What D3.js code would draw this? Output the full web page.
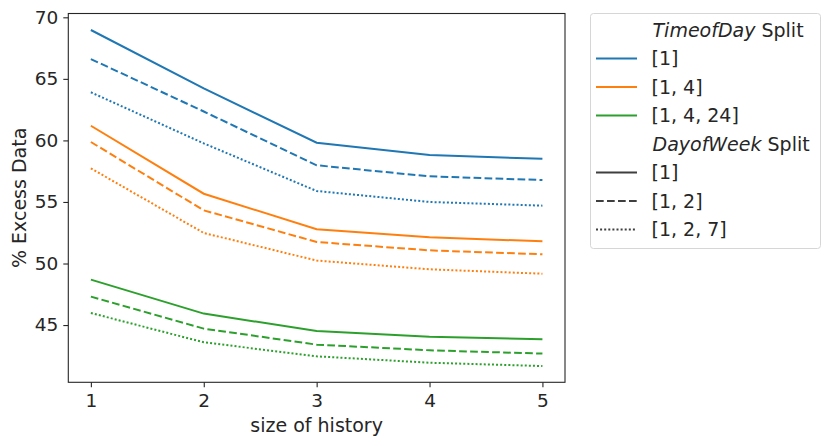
<!DOCTYPE html>
<html>
<head>
<meta charset="utf-8">
<script src="https://cdn.jsdelivr.net/npm/d3@7"></script>
<style>
  body { margin: 0; background: #fff; }
  text { font-family: "DejaVu Sans", sans-serif; fill: #262626; }
</style>
</head>
<body>
<svg width="831" height="446"></svg>
<script>
// data
const history = [1, 2, 3, 4, 5];
const todSplits = ['[1]', '[1, 4]', '[1, 4, 24]'];
const dowSplits = ['[1]', '[1, 2]', '[1, 2, 7]'];

// rows = TimeofDay split, inner = DayofWeek split
const tod1_dow1 = [68.97, 64.23, 59.81, 58.81, 58.51];
const tod1_dow2 = [66.61, 62.35, 57.98, 57.08, 56.78];
const tod1_dow3 = [63.91, 59.76, 55.89, 55.00, 54.70];
const tod2_dow1 = [61.19, 55.67, 52.78, 52.13, 51.80];
const tod2_dow2 = [59.87, 54.32, 51.75, 51.07, 50.75];
const tod2_dow3 = [57.73, 52.48, 50.24, 49.53, 49.17];
const tod3_dow1 = [48.69, 45.93, 44.52, 44.06, 43.85];
const tod3_dow2 = [47.31, 44.71, 43.41, 42.95, 42.68];
const tod3_dow3 = [45.98, 43.60, 42.46, 41.94, 41.67];

const yTicks = [45, 50, 55, 60, 65, 70];

const series = [
  {tod: 0, dow: 0, values: tod1_dow1},
  {tod: 0, dow: 1, values: tod1_dow2},
  {tod: 0, dow: 2, values: tod1_dow3},
  {tod: 1, dow: 0, values: tod2_dow1},
  {tod: 1, dow: 1, values: tod2_dow2},
  {tod: 1, dow: 2, values: tod2_dow3},
  {tod: 2, dow: 0, values: tod3_dow1},
  {tod: 2, dow: 1, values: tod3_dow2},
  {tod: 2, dow: 2, values: tod3_dow3}
];

const colours = ['#1f77b4', '#ff7f0e', '#2ca02c'];
const dashes = [null, '7.7,3.3', '2,2.1'];
const tickFont = 18.5;
const labelFont = 19;

const svg = d3.select('svg');
const margin = {top: 13.5, left: 68.3};
const width = 565 - margin.left;
const height = 382.3 - margin.top;

const graph = svg.append('g')
  .attr('transform', `translate(${margin.left},${margin.top})`);

const x = d3.scaleLinear().domain([0.8, 5.2]).range([0, width]);
const y = d3.scaleLinear().domain([40.35, 70.31]).range([height, 0]);

// lines
const line = d3.line()
  .x((d, i) => x(history[i]))
  .y(d => y(d));

graph.selectAll('path.series')
  .data(series)
  .enter()
  .append('path')
  .attr('class', 'series')
  .attr('d', d => line(d.values))
  .attr('fill', 'none')
  .attr('stroke', d => colours[d.tod])
  .attr('stroke-width', 2)
  .attr('stroke-dasharray', d => dashes[d.dow]);

// axes
const xAxisGroup = graph.append('g')
  .attr('transform', `translate(0,${height})`)
  .call(d3.axisBottom(x).tickValues(history).tickSize(5).tickPadding(7).tickFormat(d3.format('d')));
const yAxisGroup = graph.append('g')
  .call(d3.axisLeft(y).tickValues(yTicks).tickSize(5).tickPadding(5));

[xAxisGroup, yAxisGroup].forEach(g => {
  g.select('.domain').remove();
  g.selectAll('line').attr('stroke', '#262626').attr('stroke-width', 1.1);
  g.selectAll('text').attr('font-size', tickFont).attr('fill', '#262626')
    .style('font-family', '"DejaVu Sans", sans-serif');
});

// frame
graph.append('rect')
  .attr('width', width)
  .attr('height', height)
  .attr('fill', 'none')
  .attr('stroke', '#262626')
  .attr('stroke-width', 1.1);

// axis labels
svg.append('text')
  .attr('x', margin.left + width / 2)
  .attr('y', 432)
  .attr('text-anchor', 'middle')
  .attr('font-size', labelFont)
  .text('size of history');

svg.append('text')
  .attr('transform', `translate(25.5,${margin.top + height / 2}) rotate(-90)`)
  .attr('text-anchor', 'middle')
  .attr('font-size', labelFont)
  .text('% Excess Data');

// legend
const legend = svg.append('g');
legend.append('rect')
  .attr('x', 590.5).attr('y', 13.5)
  .attr('width', 230).attr('height', 235)
  .attr('rx', 3)
  .attr('fill', '#fff')
  .attr('stroke', '#d6d6d6');

const rows = [
  {title: ['TimeofDay', ' Split']},
  ...todSplits.map((t, i) => ({label: t, colour: colours[i], dash: null})),
  {title: ['DayofWeek', ' Split']},
  ...dowSplits.map((t, i) => ({label: t, colour: '#3f3f3f', dash: dashes[i]}))
];

const rowY = d3.scaleLinear().domain([0, 7]).range([30, 229.5]);

rows.forEach((r, i) => {
  const cy = rowY(i);
  if (r.title) {
    const t = legend.append('text')
      .attr('x', 652.5).attr('y', cy + 6.8)
      .attr('font-size', labelFont);
    t.append('tspan').attr('font-style', 'italic').text(r.title[0]);
    t.append('tspan').text(r.title[1]);
  } else {
    legend.append('line')
      .attr('x1', 596).attr('x2', 637)
      .attr('y1', cy).attr('y2', cy)
      .attr('stroke', r.colour)
      .attr('stroke-width', 2)
      .attr('stroke-dasharray', r.dash);
    legend.append('text')
      .attr('x', 651.5).attr('y', cy + 6.8)
      .attr('font-size', labelFont)
      .text(r.label);
  }
});
</script>
</body>
</html>
